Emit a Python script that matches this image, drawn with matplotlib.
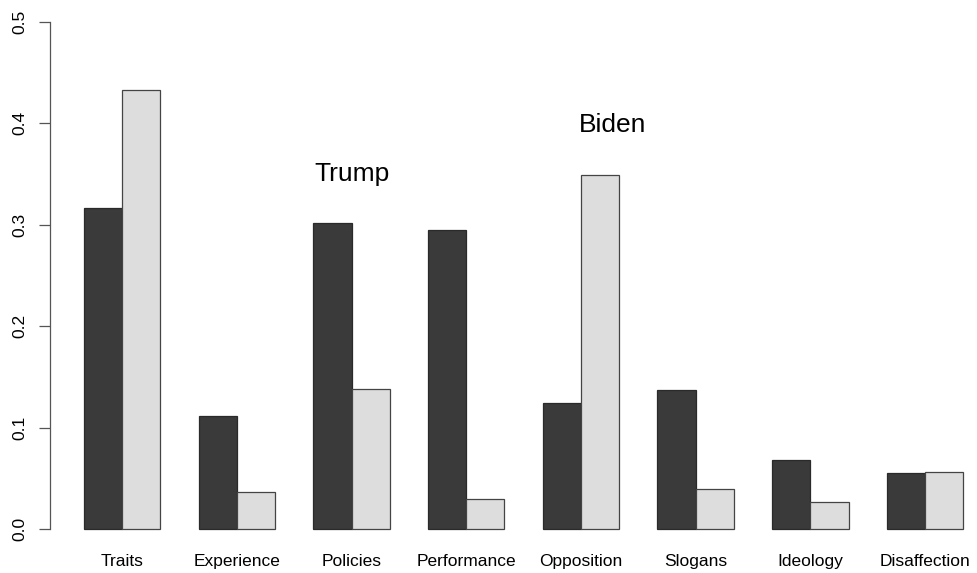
import matplotlib
matplotlib.use('Agg')
import matplotlib.pyplot as plt
import numpy as np

plt.rcParams['font.family'] = ['Liberation Sans', 'DejaVu Sans']

# Data
categories = ['Traits', 'Experience', 'Policies', 'Performance',
              'Opposition', 'Slogans', 'Ideology', 'Disaffection']
trump = [0.316, 0.112, 0.302, 0.295, 0.124, 0.137, 0.068, 0.055]
biden = [0.433, 0.037, 0.138, 0.030, 0.349, 0.040, 0.027, 0.056]
y_ticks = [0.0, 0.1, 0.2, 0.3, 0.4, 0.5]

fig = plt.figure(figsize=(9.77, 5.73), dpi=100)
ax = fig.add_axes([50 / 977, 43.7 / 573, 927 / 977, 507.6 / 573])

# R-style beside barplot: each group = 1 unit gap + 2 bars of width 1
n = len(categories)
left_dark = 1 + 3 * np.arange(n)
left_light = left_dark + 1

ax.bar(left_dark, trump, width=1, align='edge', color='#3a3a3a',
       edgecolor='#2a2a2a', linewidth=0.9, clip_on=False)
ax.bar(left_light, biden, width=1, align='edge', color='#dddddd',
       edgecolor='#444444', linewidth=0.9, clip_on=False)

ax.set_xlim(0.111, 24.36)
ax.set_ylim(0, 0.5)

# annotations
ax.text(8.0, 0.343, 'Trump', fontsize=19, ha='center', va='baseline')
ax.text(14.82, 0.391, 'Biden', fontsize=19, ha='center', va='baseline')

# axes styling
for side in ['top', 'right', 'bottom']:
    ax.spines[side].set_visible(False)
ax.spines['left'].set_color('#555555')
ax.spines['left'].set_linewidth(0.9)

ax.set_xticks(left_light, categories)
ax.tick_params(axis='x', length=0, pad=18, labelsize=12.5)

ax.set_yticks(y_ticks, [f'{v:.1f}' for v in y_ticks])
ax.tick_params(axis='y', length=8, width=0.9, color='#555555', pad=8,
               labelsize=12.5, labelrotation=90)
for lab in ax.get_yticklabels():
    lab.set_verticalalignment('center')

fig.savefig('out.png', dpi=100, facecolor='white')
